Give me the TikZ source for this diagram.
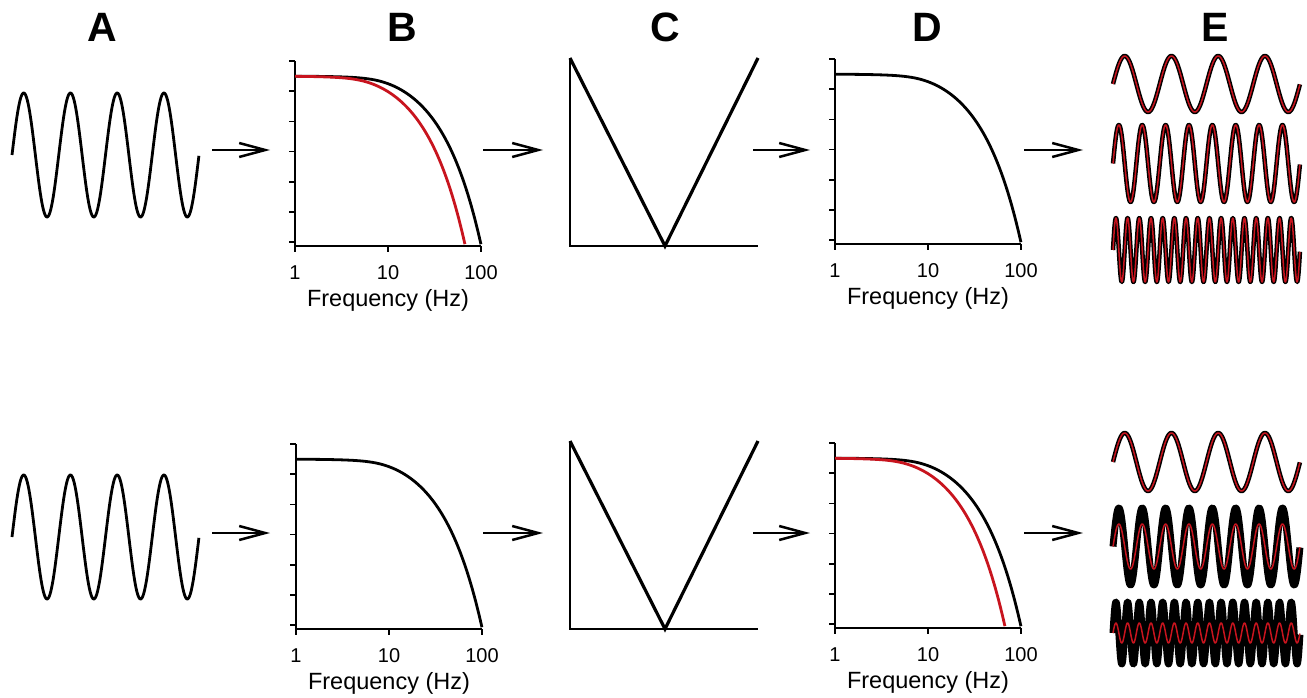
\documentclass[tikz,border=0pt]{standalone}
\usepackage{fontspec}
\setmainfont{Liberation Sans}
\usetikzlibrary{arrows.meta}
\definecolor{redc}{RGB}{200,20,30}
\newcommand\FreqPanel[4]{%
  \begin{scope}[shift={(#1,#2)}]
    \draw[axisline] (0,-185) -- (0,0) -- (186,0);
    \foreach \k in {0,...,6} \draw[axisline] (0,-185+30.2*\k) -- ++(-6,0);
    \foreach \xx/\lab in {0/1,93/10,186/100} {
      \draw[axisline] (\xx,0) -- ++(0,6);
      \node[ticklab] (#3-t\lab) at (\xx,27) {\lab};
    }
    \node[freqlab] (#3-f) at (93,54) {Frequency (Hz)};
    \draw[respcurve] plot[domain=0:2,samples=160] ({93*\x},{-171.5+170*sp((10^\x-6)/94)});
    \ifnum#4=1
      \draw[respcurve,redc] plot[domain=0:1.828,samples=160] ({93*\x},{-171.5+170*sp((10^\x-4)/63.3)});
    \fi
  \end{scope}}
\newcommand\VPanel[2]{%
  \begin{scope}[shift={(#1,#2)}]
    \draw[axisline] (0,-188) -- (0,0) -- (188,0);
    \draw[vline] (0,-188) -- (95,0) -- (188,-188);
  \end{scope}}
\newcommand\Wave[6]{%
  \draw[#6] plot[domain=0:1,samples=500] ({#1+187*\x},{#2-#3*sin(360*#4*\x)});}
\begin{document}
\begin{tikzpicture}[x=1pt,y=-1pt,
  declare function={sp(\a)=0.5*(\a+sqrt(\a*\a+0.0025));},
  axisline/.style={line width=1.6pt,black,line cap=butt},
  respcurve/.style={line width=2.8pt,black},
  vline/.style={line width=3.2pt,black,line join=miter},
  ticklab/.style={font=\fontsize{20}{20}\selectfont,inner sep=0pt},
  freqlab/.style={font=\fontsize{23.5}{24}\selectfont,inner sep=0pt},
  letter/.style={font=\fontsize{41}{41}\selectfont\bfseries,inner sep=0pt},
  wave/.style={line width=2.8pt,black,line join=round},
  ewave/.style={line width=4.5pt,black,line join=round},
  ewavethick/.style={line width=7pt,black,line join=round},
  rwave/.style={line width=1.5pt,redc,line join=round},
  flow/.style={line width=2.5pt,black,-{Straight Barb[length=26pt,width=14pt]}}]
\path[use as bounding box] (0,0) rectangle (1307,698);
% column letters
\node[letter] (lA) at (102,27) {A};
\node[letter] (lB) at (402,27) {B};
\node[letter] (lC) at (665,27) {C};
\node[letter] (lD) at (927,27) {D};
\node[letter] (lE) at (1215,27) {E};
% ---------- top row ----------
\Wave{12}{155}{62}{4}{}{wave}
\FreqPanel{295}{246}{Bt}{1}
\VPanel{570}{246}
\FreqPanel{835}{244}{Dt}{0}
\Wave{1113}{84}{28}{4}{}{ewave}
\Wave{1113}{84}{28}{4}{}{rwave}
\Wave{1113}{163.5}{38.5}{8}{}{ewave}
\Wave{1113}{163.5}{38.5}{8}{}{rwave}
\Wave{1113}{250}{32}{16}{}{ewave}
\Wave{1113}{250}{32}{16}{}{rwave}
% ---------- bottom row ----------
\Wave{12}{537}{62}{4}{}{wave}
\FreqPanel{296}{629}{Bb}{0}
\VPanel{570}{629}
\FreqPanel{835}{628}{Db}{1}
\Wave{1113}{462}{29}{4}{}{ewave}
\Wave{1113}{462}{29}{4}{}{rwave}
\Wave{1113}{546.5}{38.5}{8}{}{ewavethick}
\Wave{1113}{546.5}{22.5}{8}{}{rwave}
\Wave{1113}{633}{31}{16}{}{ewavethick}
\Wave{1113}{633}{10}{16}{}{rwave}
% arrows
\coordinate (t1s) at (212,150); \coordinate (t1e) at (270,150);
\coordinate (t2s) at (483,150); \coordinate (t2e) at (543,150);
\coordinate (t3s) at (753,150); \coordinate (t3e) at (810,150);
\coordinate (t4s) at (1024,150); \coordinate (t4e) at (1083,150);
\coordinate (b1s) at (212,533); \coordinate (b1e) at (270,533);
\coordinate (b2s) at (483,533); \coordinate (b2e) at (543,533);
\coordinate (b3s) at (753,533); \coordinate (b3e) at (810,533);
\coordinate (b4s) at (1024,533); \coordinate (b4e) at (1083,533);
\foreach \a in {t1,t2,t3,t4,b1,b2,b3,b4} \draw[flow] (\a s) -- (\a e);
\end{tikzpicture}
\end{document}
